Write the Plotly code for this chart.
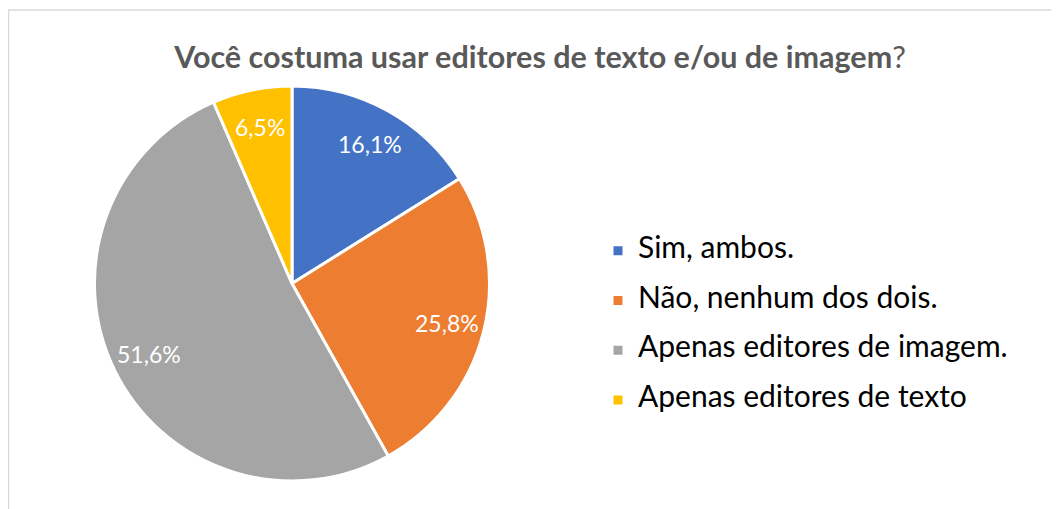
import math
import plotly.graph_objects as go

labels = ["Sim, ambos.", "Não, nenhum dos dois.", "Apenas editores de imagem.", "Apenas editores de texto"]
values = [16.1, 25.8, 51.6, 6.5]
colors = ["#4472C4", "#ED7D31", "#A5A5A5", "#FFC000"]
title = "Você costuma usar editores de texto e/ou de imagem"

W, H = 1059, 509
OFF = 8  # page body margin


def px_x(p):
    return (p - OFF) / W


def px_y(p):
    return 1 - (p - OFF) / H


# pie geometry (screen pixels)
CX, CY, R = 292, 283.5, 197.5
LABEL_FRAC = 0.81

legend_labels = [f"<span style='font-size:30px'>{l}</span><br> " for l in labels]

fig = go.Figure(go.Pie(
    labels=legend_labels,
    values=values,
    sort=False,
    direction="clockwise",
    rotation=0,
    marker=dict(colors=colors, line=dict(color="white", width=3)),
    textinfo="none",
    hoverinfo="skip",
    domain=dict(x=[px_x(CX - R), px_x(CX + R)], y=[px_y(CY + R), px_y(CY - R)]),
))

# data labels placed along each slice's mid-angle
total = sum(values)
annotations = []
cum = 0.0
for v in values:
    theta = 2 * math.pi * (cum + v / 2) / total
    cum += v
    lx = CX + LABEL_FRAC * R * math.sin(theta)
    ly = CY - LABEL_FRAC * R * math.cos(theta)
    txt = f"{v / total * 100:.1f}".replace(".", ",") + "%"
    annotations.append(dict(x=px_x(lx), y=px_y(ly), xref="paper", yref="paper", text=txt,
                            showarrow=False, xanchor="center", yanchor="middle",
                            font=dict(family="Lato", size=23, color="white")))

fig.update_layout(
    width=W, height=H,
    margin=dict(l=0, r=0, t=0, b=0),
    paper_bgcolor="white",
    title=dict(text="<b>" + title + "</b>?", x=px_x(540), xanchor="center", y=px_y(57), yanchor="middle",
               font=dict(family="Lato", size=30.5, color="#595959")),
    legend=dict(x=px_x(598), xanchor="left", y=px_y(337.5), yanchor="middle",
                font=dict(family="Lato", size=18, color="#000000"), valign="top"),
    annotations=annotations,
    shapes=[dict(type="rect", xref="paper", yref="paper", x0=px_x(8.5), x1=1.05, y0=-0.05, y1=px_y(10),
                 line=dict(color="#D9D9D9", width=1.5), fillcolor="rgba(0,0,0,0)")],
)

fig.write_html("out.html")
